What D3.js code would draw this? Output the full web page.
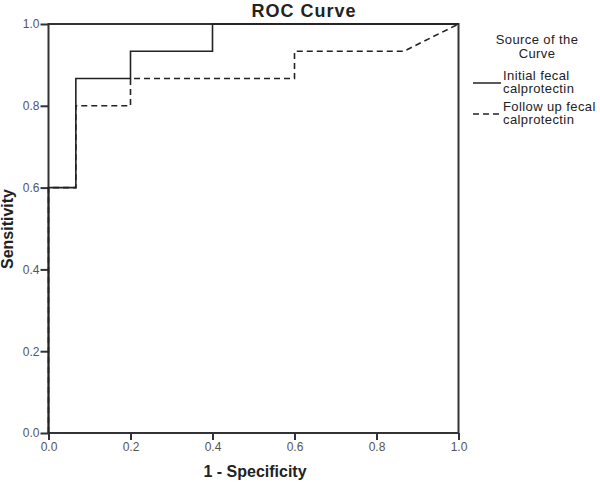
<!DOCTYPE html>
<html>
<head>
<meta charset="utf-8">
<script src="https://cdn.jsdelivr.net/npm/d3@7"></script>
<style>
  body { margin: 0; background: #fff; }
  svg { font-family: Arial, "Liberation Sans", sans-serif; }
</style>
</head>
<body>
<div id="chart"></div>
<script>
// ROC points (1 - specificity, sensitivity)
const initialFpr = [0, 0, 0.0667, 0.0667, 0.2, 0.2, 0.4, 0.4, 1.0];
const initialTpr = [0, 0.6, 0.6, 0.8667, 0.8667, 0.9333, 0.9333, 1.0, 1.0];
const followFpr = [0, 0, 0.0667, 0.0667, 0.2, 0.2, 0.6, 0.6, 0.8667, 1.0];
const followTpr = [0, 0.6, 0.6, 0.8, 0.8, 0.8667, 0.8667, 0.9333, 0.9333, 1.0];
const tickValues = [0, 0.2, 0.4, 0.6, 0.8, 1.0];
const legendLabels = [["Initial fecal", "calprotectin"], ["Follow up fecal", "calprotectin"]];

const width = 600, height = 483;
const plotLeft = 48.5, plotRight = 458.5, plotTop = 24, plotBottom = 433;

const svg = d3.select("#chart").append("svg")
    .attr("width", width).attr("height", height);

const x = d3.scaleLinear().domain([0, 1]).range([plotLeft, plotRight]);
const y = d3.scaleLinear().domain([0, 1]).range([plotBottom, plotTop]);

// frame
svg.append("rect")
    .attr("x", plotLeft).attr("y", plotTop)
    .attr("width", plotRight - plotLeft).attr("height", plotBottom - plotTop)
    .attr("fill", "none").attr("stroke", "#333").attr("stroke-width", 2);

const xAxis = svg.append("g")
    .attr("transform", `translate(0,${plotBottom})`)
    .call(d3.axisBottom(x).tickValues(tickValues).tickFormat(d3.format(".1f"))
        .tickSize(7).tickSizeOuter(0).tickPadding(2));
const yAxis = svg.append("g")
    .attr("transform", `translate(${plotLeft},0)`)
    .call(d3.axisLeft(y).tickValues(tickValues).tickFormat(d3.format(".1f"))
        .tickSize(8).tickSizeOuter(0).tickPadding(1));

[xAxis, yAxis].forEach(ax => {
    ax.select(".domain").remove();
    ax.selectAll("line").attr("stroke", "#333").attr("stroke-width", 2);
    ax.selectAll("text").attr("fill", "#555").attr("font-size", "12px")
        .attr("font-family", "Arial, 'Liberation Sans', sans-serif");
});

const line = d3.line().x(d => x(d[0])).y(d => y(d[1]));

svg.append("path")
    .datum(followFpr.map((v, i) => [v, followTpr[i]]))
    .attr("d", line)
    .attr("fill", "none").attr("stroke", "#222").attr("stroke-width", 1.6)
    .attr("stroke-dasharray", "6,4");

svg.append("path")
    .datum(initialFpr.map((v, i) => [v, initialTpr[i]]))
    .attr("d", line)
    .attr("fill", "none").attr("stroke", "#222").attr("stroke-width", 1.6);

// titles
svg.append("text").attr("x", 304).attr("y", 17)
    .attr("text-anchor", "middle").attr("font-weight", "bold").attr("font-size", "18px")
    .attr("letter-spacing", "1px")
    .attr("fill", "#222").text("ROC Curve");
svg.append("text").attr("x", 255).attr("y", 477)
    .attr("text-anchor", "middle").attr("font-weight", "bold").attr("font-size", "16px")
    .attr("fill", "#222").text("1 - Specificity");
svg.append("text").attr("transform", "translate(13,229) rotate(-90)")
    .attr("text-anchor", "middle").attr("font-weight", "bold").attr("font-size", "16px")
    .attr("fill", "#222").text("Sensitivity");

// legend
const legend = svg.append("g").attr("font-size", "13px").attr("fill", "#222");
legend.append("text").attr("x", 537).attr("y", 44).attr("text-anchor", "middle")
    .attr("letter-spacing", "0.4px").text("Source of the");
legend.append("text").attr("x", 537).attr("y", 57.5).attr("text-anchor", "middle")
    .attr("letter-spacing", "0.4px").text("Curve");

legendLabels.forEach((lbl, i) => {
    const ly = 83 + i * 31;
    legend.append("line").attr("x1", 473).attr("x2", 501).attr("y1", ly).attr("y2", ly)
        .attr("stroke", "#222").attr("stroke-width", 1.5)
        .attr("stroke-dasharray", i === 1 ? "6,4" : null);
    lbl.forEach((t, j) => {
        legend.append("text").attr("x", 503).attr("y", ly - 3.5 + j * 13.5)
            .attr("letter-spacing", "0.4px").text(t);
    });
});
</script>
</body>
</html>
